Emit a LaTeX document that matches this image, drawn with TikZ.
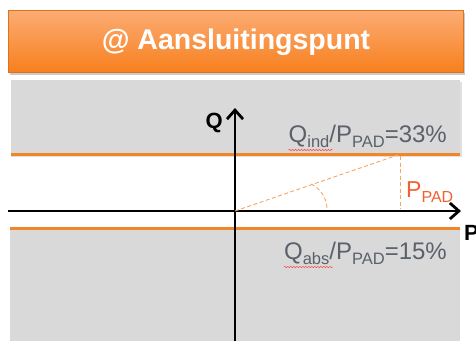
\documentclass[tikz,border=0pt]{standalone}
\usepackage{fontspec}
\setmainfont{Liberation Sans}
\usetikzlibrary{arrows.meta}
\usetikzlibrary{calc}
\usetikzlibrary{decorations.pathmorphing}

\definecolor{kop1}{RGB}{252,172,116}
\definecolor{kop2}{RGB}{247,128,30}
\definecolor{oranjelijn}{RGB}{240,134,40}
\definecolor{tekstgrijs}{RGB}{90,97,106}
\definecolor{padrood}{RGB}{240,96,50}
\definecolor{streep}{RGB}{245,165,100}
\definecolor{band}{RGB}{217,217,217}
\newcommand{\onder}[2][16.5]{\raisebox{-5pt}{\fontsize{#1}{#1}\selectfont #2}}

\begin{document}
\begin{tikzpicture}[x=1pt,y=-1pt,inner sep=0pt,>={Straight Barb[length=9pt,width=16pt]},
  as/.style={line width=2.8pt,black},
  grens/.style={line width=3pt,oranjelijn},
  hulp/.style={streep,line width=.9pt,dash pattern=on 4pt off 2.5pt},
  kronkel/.style={red!75,line width=.5pt,decorate,decoration={snake,amplitude=.7pt,segment length=3pt}},
  lbl/.style={font=\fontsize{24}{24}\selectfont,text=tekstgrijs,anchor=base east}]
\useasboundingbox (0,0) rectangle (476,341);
% grijze banden
\fill[black!20,opacity=.6] (11,82) rectangle (462,157);
\fill[band] (11,80) rectangle (460,154);
\fill[band] (10,228) rectangle (460,341);
% kop
\fill[black!45,opacity=.45] (10,13) rectangle (465,75);
\shade[top color=kop1,bottom color=kop2,draw=kop2!90!black,line width=.6pt] (8,10) rectangle (463,72);
\draw node [font=\fontsize{28.5}{28.5}\selectfont\bfseries,text=white,anchor=base] (kop) at (236,49) {@ Aansluitingspunt};
% grenzen
\draw[grens] (11,154) -- (460,154);
\draw[grens] (10,228) -- (460,228);
% assen
\coordinate (O) at (235,211);
\coordinate (Pl) at (8,211);
\coordinate (Pr) at (461,211);
\coordinate (Qo) at (235,341);
\coordinate (Qb) at (235,108);
\draw[as,->] (Pl) -- (Pr);
\draw[as,->] (Qo) -- (Qb);
\draw node [font=\fontsize{22}{22}\selectfont\bfseries,anchor=base east] (Qlab) at (223,128) {Q};
\draw node [font=\fontsize{22}{22}\selectfont\bfseries,anchor=base west] (Plab) at (464,240) {P};
% hulplijnen
\coordinate (top) at (398,155);
\coordinate (hoek) at (400,156);
\coordinate (voet) at (400,209);
\draw[hulp] (O) -- (top);
\draw[hulp] (hoek) -- (voet);
\draw[hulp] (311,184) .. controls (320,188) and (327,198) .. (327,209);
\draw node [font=\fontsize{23}{23}\selectfont,text=padrood,anchor=base west] (Ppad) at (406,197) {P\onder[16]{PAD}};
% verhoudingen
\draw node [lbl] (Qind) at (447,142) {Q\onder{ind}/P\onder{PAD}=33\%};
\draw node [lbl] (Qabs) at (447,259) {Q\onder{abs}/P\onder{PAD}=15\%};
\draw[kronkel] ($(Qind.base west)+(0,8)$) -- +(44,0);
\draw[kronkel] ($(Qabs.base west)+(0,8)$) -- +(49,0);
\end{tikzpicture}
\end{document}
